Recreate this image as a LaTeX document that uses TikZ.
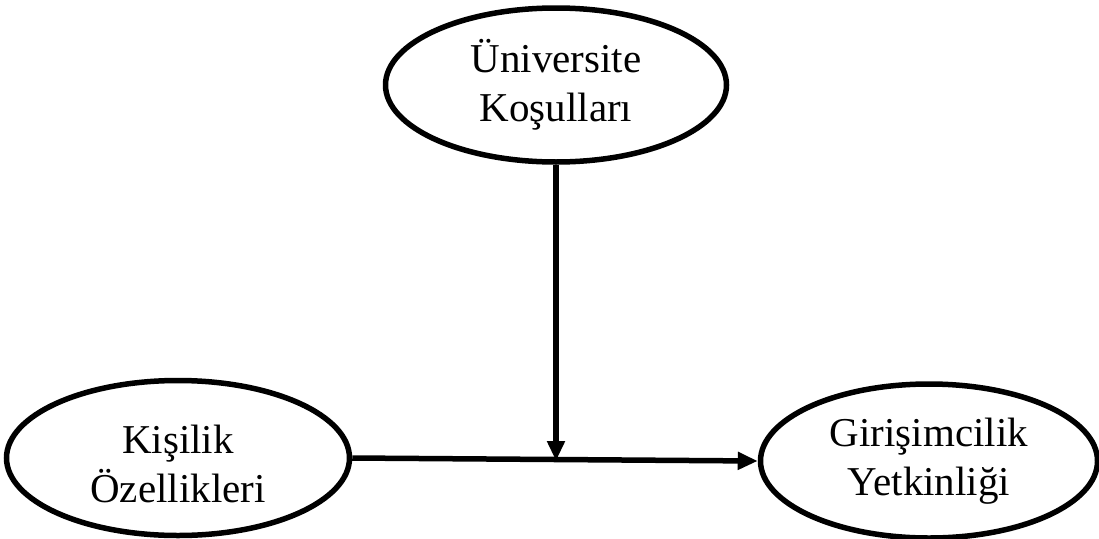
\documentclass[tikz,border=0pt]{standalone}
\usepackage{fontspec}
\setmainfont{Liberation Serif}
\usetikzlibrary{shapes.geometric,arrows.meta}
\begin{document}
\begin{tikzpicture}[x=1pt,y=-1pt,
  txt/.style={inner sep=0pt,align=center,font=\fontsize{41}{49}\selectfont},
  oval/.style={ellipse,draw=black,line width=5.5pt,inner sep=0pt,txt},
  conn/.style={line width=5.5pt,-{Triangle[length=20pt,width=17pt]}}]
\path[use as bounding box,fill=white] (0,0) rectangle (1099,538);
\node[oval,minimum width=341pt,minimum height=154pt] (uni) at (556,85) {Üniversite\\Koşulları};
\node[oval,minimum width=343pt,minimum height=155pt] (kisi) at (178,458) {};
\node[txt] (kisitext) at ([yshift=-6pt]kisi.center) {Kişilik\\Özellikleri};
\node[oval,minimum width=337pt,minimum height=154pt] (giri) at (929,461) {Girişimcilik\\Yetkinliği};
\coordinate (mid) at (uni.south |- 0,461);
\draw[conn] (kisi.east) -- (giri.west);
\draw[conn] (uni.south) -- (mid);
\end{tikzpicture}
\end{document}
